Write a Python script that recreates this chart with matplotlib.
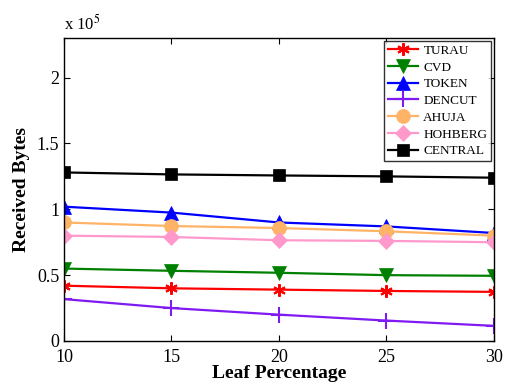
import numpy as np
import matplotlib
matplotlib.use("Agg")
import matplotlib.pyplot as plt

plt.rcParams['font.family'] = ['Liberation Serif', 'DejaVu Serif']
plt.rcParams['mathtext.fontset'] = 'stix'

leaf = [10, 15, 20, 25, 30]
turau = [0.42, 0.40, 0.39, 0.38, 0.373]
cvd = [0.55, 0.533, 0.518, 0.50, 0.495]
token = [1.02, 0.975, 0.90, 0.87, 0.82]
dencut = [0.318, 0.25, 0.20, 0.155, 0.115]
ahuja = [0.90, 0.873, 0.858, 0.833, 0.80]
hohberg = [0.80, 0.79, 0.765, 0.76, 0.75]
central = [1.28, 1.265, 1.257, 1.25, 1.24]

series = [
    ("TURAU", turau, "r", (1, 0, 0), 9),
    ("CVD", cvd, "v", (0, 0.5, 0), 10),
    ("TOKEN", token, "^", (0, 0, 1), 10),
    ("DENCUT", dencut, "+", (0.5, 0.1, 0.95), 11),
    ("AHUJA", ahuja, "o", (1, 0.7, 0.4), 10),
    ("HOHBERG", hohberg, "D", (1, 0.6, 0.8), 8),
    ("CENTRAL", central, "s", (0, 0, 0), 8),
]

fig = plt.figure(figsize=(5.14, 3.85), dpi=100)
ax = fig.add_axes([0.1245, 0.1143, 0.8365, 0.7867])

for name, vals, mk, col, ms in series:
    if mk == "r":
        mk = (6, 2, 0)
    ax.plot(leaf, vals, color=col, marker=mk, markersize=ms, linewidth=1.6,
            markeredgewidth=1.5 if name in ("TURAU", "DENCUT") else 0.5,
            markeredgecolor=col, label=name)

ax.set_xlim(10, 30)
ax.set_ylim(0, 2.3)
ax.set_xticks(leaf)
ax.set_yticks([0, 0.5, 1, 1.5, 2])
ax.set_yticklabels(["0", "0.5", "1", "1.5", "2"])
ax.tick_params(direction='in', top=True, right=True, labelsize=13, length=4)
ax.tick_params(axis='x', pad=6)
for s in ax.spines.values():
    s.set_linewidth(1.0)
ax.set_xlabel("Leaf Percentage", fontsize=14, fontweight='bold', labelpad=-1)
ax.set_ylabel("Received Bytes", fontsize=14, fontweight='bold', labelpad=5)
ax.text(0.0, 1.015, r"x 10$^5$", transform=ax.transAxes, fontsize=12, ha='left', va='bottom')

leg = ax.legend(loc='upper right', fontsize=9.5, frameon=True, fancybox=False,
                edgecolor='k', borderaxespad=0.2, handlelength=2.3,
                labelspacing=0.34, borderpad=0.3, handletextpad=0.4)
leg.get_frame().set_linewidth(1.0)

fig.savefig("out.png", dpi=100)
